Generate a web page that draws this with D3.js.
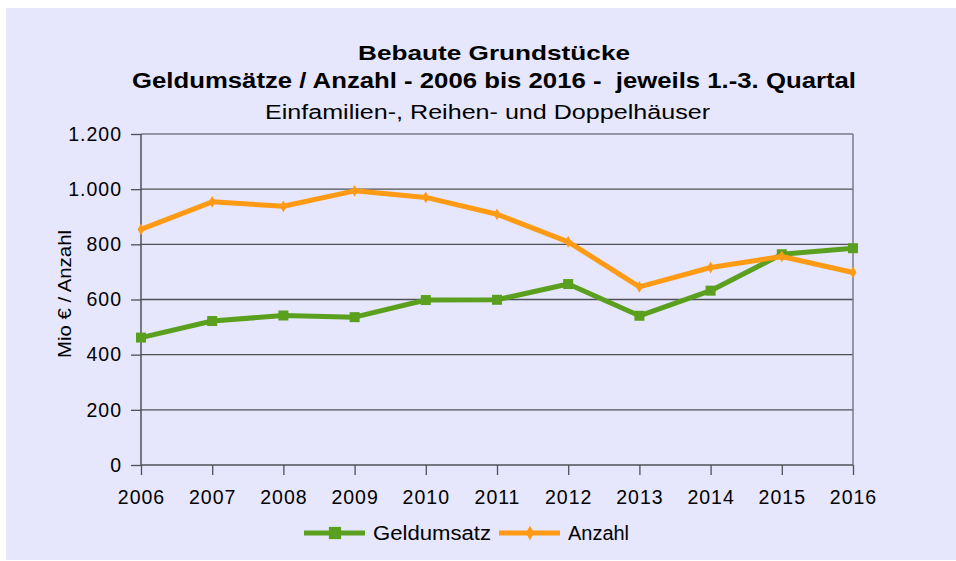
<!DOCTYPE html>
<html>
<head>
<meta charset="utf-8">
<script src="https://cdn.jsdelivr.net/npm/d3@7"></script>
<style>
  body { margin: 0; background: #fff; }
  svg text { font-family: "Liberation Sans", Arial, sans-serif; fill: #000; white-space: pre; }
</style>
</head>
<body>
<script>
var years = ["2006","2007","2008","2009","2010","2011","2012","2013","2014","2015","2016"];
var geldumsatz = [462, 522, 542, 536, 598, 599, 656, 541, 632, 764, 786];
var anzahl = [854, 954, 938, 994, 970, 909, 809, 646, 716, 756, 698];
var yTicks = [0, 200, 400, 600, 800, 1000, 1200];
var titleLines = ["Bebaute Grundstücke", "Geldumsätze / Anzahl - 2006 bis 2016 -  jeweils 1.-3. Quartal"];
var subtitle = "Einfamilien-, Reihen- und Doppelhäuser";

var width = 956, height = 561;
var plotL = 141, plotR = 853, plotT = 134, plotB = 465;

var svg = d3.select("body").append("svg")
  .attr("width", width).attr("height", height);

svg.append("rect")
  .attr("x", 6).attr("y", 8).attr("width", 950).attr("height", 552)
  .attr("fill", "#e6e6fc");

var x = d3.scalePoint().domain(years).range([plotL, plotR]);
var y = d3.scaleLinear().domain([0, 1200]).range([plotB, plotT]);

// grid
svg.append("g").selectAll("line").data(yTicks.filter(function(d) { return d > 0; }))
  .enter().append("line")
  .attr("x1", plotL).attr("x2", plotR)
  .attr("y1", function(d) { return y(d); }).attr("y2", function(d) { return y(d); })
  .attr("stroke", function(d) { return d === 1200 ? "#7a7a8a" : "#505058"; })
  .attr("stroke-width", 1.3);

svg.append("line")
  .attr("x1", plotR).attr("x2", plotR).attr("y1", plotT).attr("y2", plotB)
  .attr("stroke", "#7a7a8a").attr("stroke-width", 1.5);

var yAxis = svg.append("g")
  .attr("transform", "translate(" + plotL + ",0)")
  .call(d3.axisLeft(y).tickValues(yTicks).tickSize(10).tickPadding(9)
    .tickFormat(function(d) { return d3.format(",")(d).replace(/,/g, "."); }));

var xAxis = svg.append("g")
  .attr("transform", "translate(0," + plotB + ")")
  .call(d3.axisBottom(x).tickSize(10).tickPadding(15));

[yAxis, xAxis].forEach(function(a) {
  a.select(".domain").attr("stroke", "#505058").attr("stroke-width", 1.5);
  a.selectAll(".tick line").attr("stroke", "#505058").attr("stroke-width", 1.3);
  a.selectAll("text").style("font-size", "19.5px").style("letter-spacing", "1px")
    .attr("fill", "#000");
});
xAxis.select(".domain").attr("d", "M" + plotL + ",0H" + plotR);
yAxis.select(".domain").attr("d", "M0," + plotT + "V" + plotB);

// lines
var line = d3.line()
  .x(function(d, i) { return x(years[i]); })
  .y(function(d) { return y(d); });

svg.append("path").datum(geldumsatz)
  .attr("d", line).attr("fill", "none")
  .attr("stroke", "#5aa01e").attr("stroke-width", 5).attr("stroke-linejoin", "round");
svg.append("g").selectAll("rect").data(geldumsatz).enter().append("rect")
  .attr("x", function(d, i) { return x(years[i]) - 5; })
  .attr("y", function(d) { return y(d) - 5; })
  .attr("width", 10).attr("height", 10)
  .attr("fill", "#5aa01e");

svg.append("path").datum(anzahl)
  .attr("d", line).attr("fill", "none")
  .attr("stroke", "#ff9a14").attr("stroke-width", 5).attr("stroke-linejoin", "round");
svg.append("g").selectAll("path").data(anzahl).enter().append("path")
  .attr("d", d3.symbol().type(d3.symbolDiamond).size(40))
  .attr("transform", function(d, i) { return "translate(" + x(years[i]) + "," + y(d) + ")"; })
  .attr("fill", "#ff9a14");

// titles
svg.append("text").attr("x", 358).attr("y", 60)
  .attr("textLength", 272).attr("lengthAdjust", "spacingAndGlyphs")
  .style("font-size", "21px").style("font-weight", "bold")
  .text(titleLines[0]);
svg.append("text").attr("x", 132).attr("y", 88)
  .attr("textLength", 724).attr("lengthAdjust", "spacingAndGlyphs")
  .style("font-size", "21.5px").style("font-weight", "bold")
  .text(titleLines[1]);
svg.append("text").attr("x", 265).attr("y", 119)
  .attr("textLength", 445).attr("lengthAdjust", "spacingAndGlyphs")
  .style("font-size", "20px")
  .text(subtitle);

svg.append("text")
  .attr("transform", "translate(71,358) rotate(-90)")
  .attr("textLength", 128).attr("lengthAdjust", "spacingAndGlyphs")
  .style("font-size", "19px")
  .text("Mio € / Anzahl");

// legend
var legend = [
  { name: "Geldumsatz", color: "#5aa01e", x: 304, len: 118, marker: "square" },
  { name: "Anzahl", color: "#ff9a14", x: 499, len: 61, marker: "diamond" }
];
var lg = svg.append("g").selectAll("g").data(legend).enter().append("g")
  .attr("transform", function(d) { return "translate(" + d.x + ",533)"; });
lg.append("line").attr("x1", 0).attr("x2", 61)
  .attr("stroke", function(d) { return d.color; }).attr("stroke-width", 5);
lg.append("path")
  .attr("d", function(d) {
    return d.marker === "square" ? d3.symbol().type(d3.symbolSquare).size(150)()
                                 : d3.symbol().type(d3.symbolDiamond).size(60)();
  })
  .attr("transform", "translate(31,0)")
  .attr("fill", function(d) { return d.color; });
lg.append("text").attr("x", 69).attr("y", 7)
  .attr("textLength", function(d) { return d.len; }).attr("lengthAdjust", "spacingAndGlyphs")
  .style("font-size", "19.5px")
  .text(function(d) { return d.name; });
</script>
</body>
</html>
